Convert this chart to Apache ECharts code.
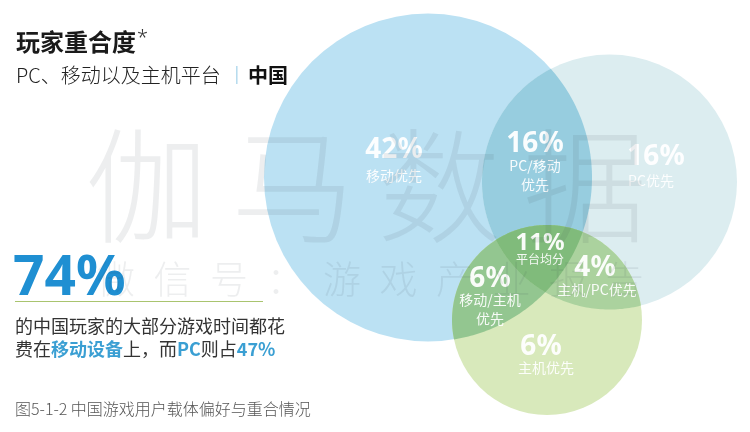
<!DOCTYPE html>
<html><head><meta charset="utf-8">
<script src="https://cdn.jsdelivr.net/npm/echarts@6/dist/echarts.min.js"></script>
<style>html,body{margin:0;padding:0;background:#fff}#c{width:750px;height:432px}</style>
</head><body><div id="c"></div>
<script>
// ---- data ----
const circleNames = ['移动', 'PC', '主机'];
const circleCX = [428, 609.5, 547];
const circleCY = [177.5, 182, 320];
const circleR = [164, 127.5, 95];
const regionValues = ['42%', '16%', '16%', '11%', '6%', '4%', '6%'];
const regionNames = [['移动优先'], ['PC/移动', '优先'], ['PC优先'], ['平台均分'], ['移动/主机', '优先'], ['主机/PC优先'], ['主机优先']];
const regionX = [394, 535, 656, 540, 490, 595, 541];
const regionY = [150, 144, 157, 243, 279, 268, 347];

// ---- layout / style ----
const numSize = [28, 28, 28, 24, 28, 28, 28];
const nameSize = [14, 14, 14, 12, 14, 14, 14];
const nameDy = [26, 22, 24, 16, 21, 22, 21];
const nameDx = [0, 0, -5, 0, 0, 2, 5];
const circleFill = ['#bbe1f3', '#dcedf0', '#d8e9bb'];
const lensFill = { '0-1': '#97cddf', '0-2': '#93c690', '1-2': '#abd29e' };
const tripleFill = '#80bb7b';
const CJK = '"Noto Sans CJK SC", "Noto Sans", sans-serif';
const LAT = '"Noto Sans", "Noto Sans CJK SC", sans-serif';

function isect(A, B) {
  const dx = B.x - A.x, dy = B.y - A.y, d = Math.hypot(dx, dy);
  const a = (A.r * A.r - B.r * B.r + d * d) / (2 * d);
  const h = Math.sqrt(Math.max(0, A.r * A.r - a * a));
  const mx = A.x + a * dx / d, my = A.y + a * dy / d;
  return [[mx - h * dy / d, my + h * dx / d], [mx + h * dy / d, my - h * dx / d]];
}
function inside(p, c) { return Math.hypot(p[0] - c.x, p[1] - c.y) <= c.r + 0.01; }
function arc(c, p1, p2, tests) {
  const a1 = Math.atan2(p1[1] - c.y, p1[0] - c.x);
  const a2 = Math.atan2(p2[1] - c.y, p2[0] - c.x);
  let d = a2 - a1;
  while (d > Math.PI) d -= 2 * Math.PI;
  while (d < -Math.PI) d += 2 * Math.PI;
  const mid = [c.x + c.r * Math.cos(a1 + d / 2), c.y + c.r * Math.sin(a1 + d / 2)];
  if (!tests.every(t => inside(mid, t))) d = d > 0 ? d - 2 * Math.PI : d + 2 * Math.PI;
  const pts = [];
  const n = 72;
  for (let k = 0; k <= n; k++) {
    const a = a1 + d * k / n;
    pts.push([c.x + c.r * Math.cos(a), c.y + c.r * Math.sin(a)]);
  }
  return pts;
}

const chart = echarts.init(document.getElementById('c'));

const graphics = [];
// watermark
const wm1 = '伽马数据';
for (let i = 0; i < wm1.length; i++) {
  graphics.push({ type: 'text', z: 100, x: 85 + i * 146, y: 186,
    style: { text: wm1[i], font: '300 124px ' + CJK, fill: 'rgba(60,70,75,0.09)', verticalAlign: 'middle' } });
}
const wm2 = '微信号：游戏产业报告';
for (let i = 0; i < wm2.length; i++) {
  graphics.push({ type: 'text', z: 100, x: 97 + i * 56.5, y: 279,
    style: { text: wm2[i], font: '300 38px ' + CJK, fill: 'rgba(60,70,75,0.09)', verticalAlign: 'middle' } });
}
// left texts
graphics.push(
  { type: 'text', z: 50, x: 16, y: 42, style: { text: '玩家重合度', font: 'bold 24px ' + CJK, fill: '#1a1a1a', verticalAlign: 'middle' } },
  { type: 'text', z: 50, x: 137, y: 38, style: { text: '*', font: '300 20px ' + LAT, fill: '#333', verticalAlign: 'middle' } },
  { type: 'text', z: 50, x: 16, y: 75, style: { text: 'PC、移动以及主机平台', font: '300 20px ' + CJK, fill: '#222', verticalAlign: 'middle' } },
  { type: 'text', z: 50, x: 232, y: 75, style: { text: '|', font: '300 18px ' + LAT, fill: '#8cc6e4', verticalAlign: 'middle' } },
  { type: 'text', z: 50, x: 248, y: 75, style: { text: '中国', font: 'bold 20px ' + CJK, fill: '#111', verticalAlign: 'middle' } },
  { type: 'text', z: 50, x: 13, y: 279, style: { text: '74%', font: 'bold 55px ' + LAT, fill: '#1f8fd2', verticalAlign: 'middle' } },
  { type: 'line', z: 50, shape: { x1: 15, y1: 301.5, x2: 263, y2: 301.5 }, style: { stroke: '#a9c46f', lineWidth: 1 } },
  { type: 'text', z: 50, x: 15, y: 326, style: { text: '的中国玩家的大部分游戏时间都花', font: '18px ' + CJK, fill: '#333', verticalAlign: 'middle' } },
  { type: 'text', z: 50, x: 15, y: 349, style: {
      text: '{n|费在}{b|移动设备}{n|上，而}{b|PC}{n|则占}{b|47%}',
      verticalAlign: 'middle',
      rich: {
        n: { fontSize: 18, fontFamily: CJK, fill: '#333' },
        b: { fontSize: 18, fontFamily: CJK, fontWeight: 'bold', fill: '#3a9fd3' }
      } } },
  { type: 'text', z: 50, x: 15, y: 409, style: { text: '图5-1-2 中国游戏用户载体偏好与重合情况', font: '300 16px ' + CJK, fill: '#555', verticalAlign: 'middle' } }
);

chart.setOption({
  backgroundColor: '#ffffff',
  animation: false,
  grid: { left: 0, right: 0, top: 0, bottom: 0 },
  xAxis: { type: 'value', min: 0, max: 750, show: false },
  yAxis: { type: 'value', min: 0, max: 432, inverse: true, show: false },
  graphic: graphics,
  series: [
    {
      type: 'custom', name: 'venn', z: 2, silent: true,
      data: [[0, 0]],
      renderItem: function (params, api) {
        const C = circleCX.map(function (x, i) {
          const p = api.coord([x, circleCY[i]]);
          return { x: p[0], y: p[1], r: api.size([circleR[i], 0])[0] };
        });
        const children = C.map(function (c, i) {
          return { type: 'circle', shape: { cx: c.x, cy: c.y, r: c.r }, style: { fill: circleFill[i] } };
        });
        [[0, 1], [0, 2], [1, 2]].forEach(function (pair) {
          const A = C[pair[0]], B = C[pair[1]];
          const q = isect(A, B);
          const pts = arc(A, q[0], q[1], [B]).concat(arc(B, q[1], q[0], [A]));
          children.push({ type: 'polygon', shape: { points: pts }, style: { fill: lensFill[pair.join('-')] } });
        });
        const [A, B, D] = C;
        const pick = function (pp, t) { return inside(pp[0], t) ? pp[0] : pp[1]; };
        const vAB = pick(isect(A, B), D), vBD = pick(isect(B, D), A), vDA = pick(isect(D, A), B);
        const tri = arc(A, vDA, vAB, [B, D]).concat(arc(B, vAB, vBD, [A, D]), arc(D, vBD, vDA, [A, B]));
        children.push({ type: 'polygon', shape: { points: tri }, style: { fill: tripleFill } });
        return { type: 'group', children: children };
      }
    },
    {
      type: 'custom', name: 'labels', z: 5, silent: true,
      data: regionX.map(function (x, i) { return [x, regionY[i], i]; }),
      renderItem: function (params, api) {
        const i = api.value(2);
        const p = api.coord([api.value(0), api.value(1)]);
        const children = [{
          type: 'text', x: p[0], y: p[1],
          style: { text: regionValues[i], font: 'bold ' + numSize[i] + 'px ' + LAT, fill: 'rgba(255,255,255,0.95)', align: 'center', verticalAlign: 'middle' }
        }];
        regionNames[i].forEach(function (t, k) {
          children.push({
            type: 'text', x: p[0] + nameDx[i], y: p[1] + nameDy[i] + k * 19,
            style: { text: t, font: nameSize[i] + 'px ' + CJK, fill: 'rgba(255,255,255,0.92)', align: 'center', verticalAlign: 'middle' }
          });
        });
        return { type: 'group', children: children };
      }
    }
  ]
});
</script>
</body></html>
